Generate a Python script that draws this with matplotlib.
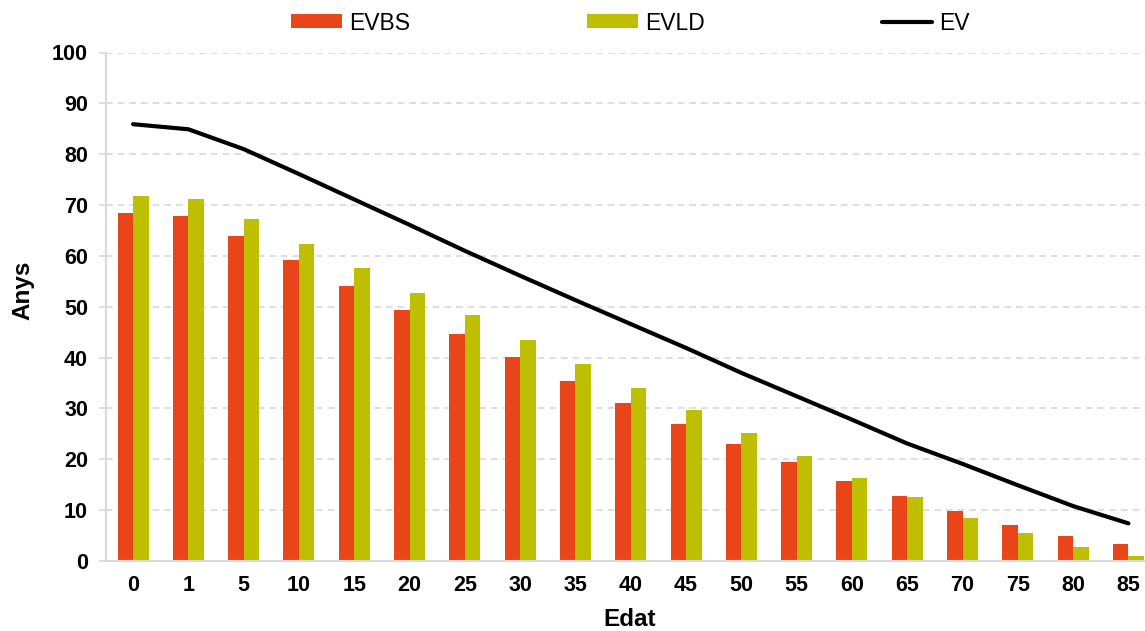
import numpy as np
import matplotlib
matplotlib.use("Agg")
import matplotlib.pyplot as plt

plt.rcParams["font.family"] = ["Liberation Sans", "DejaVu Sans"]

edats = ["0", "1", "5", "10", "15", "20", "25", "30", "35", "40",
         "45", "50", "55", "60", "65", "70", "75", "80", "85"]
evbs = [68.5, 67.8, 64.0, 59.1, 54.0, 49.3, 44.7, 40.1, 35.3, 31.1,
        26.9, 23.0, 19.4, 15.8, 12.7, 9.8, 7.0, 4.9, 3.4]
evld = [71.8, 71.2, 67.3, 62.4, 57.6, 52.8, 48.3, 43.5, 38.7, 34.1,
        29.6, 25.1, 20.6, 16.3, 12.5, 8.5, 5.5, 2.8, 1.0]
ev = [85.9, 84.9, 81.0, 76.1, 71.1, 66.1, 61.0, 56.1, 51.3, 46.6,
      41.9, 37.0, 32.4, 27.8, 23.1, 19.1, 14.9, 10.8, 7.4]

RED = "#E8461A"
GREEN = "#BEBF00"
GRID = "#d9d9d9"

x = np.arange(len(edats))
w = 0.28

fig = plt.figure(figsize=(11.45, 6.31), dpi=100)
ax = fig.add_axes([106 / 1145, 70 / 631, 1 - 106 / 1145, 508.5 / 631])

b1 = ax.bar(x - w / 2, evbs, width=w, color=RED, label="EVBS", zorder=2)
b2 = ax.bar(x + w / 2, evld, width=w, color=GREEN, label="EVLD", zorder=2)
l1, = ax.plot(x, ev, color="black", lw=3, solid_capstyle="round", label="EV", zorder=3)

ax.set_xlim(-0.49, 18.3)
ax.set_ylim(0, 100)
ax.set_yticks(range(0, 101, 10))
ax.set_xticks(x)
ax.set_xticklabels(edats)

ax.yaxis.grid(True, color=GRID, lw=1.2, linestyle=(0, (4, 3)), zorder=0)
ax.set_axisbelow(True)
for s in ["top", "right"]:
    ax.spines[s].set_visible(False)
for s in ["left", "bottom"]:
    ax.spines[s].set_color(GRID)
    ax.spines[s].set_linewidth(1.5)

ax.tick_params(axis="y", length=5, color=GRID, width=1.2, pad=8,
               labelsize=15.5)
ax.tick_params(axis="x", length=0, pad=10, labelsize=15.5)
for t in ax.get_xticklabels() + ax.get_yticklabels():
    t.set_fontweight("bold")

ax.set_xlabel("Edat", fontsize=17.5, fontweight="bold")
ax.xaxis.set_label_coords((630 - 106) / 1039, -(608 - 561) / 508.5)
ax.set_ylabel("Anys", fontsize=17.5, fontweight="bold")
ax.yaxis.set_label_coords(-(106 - 34) / 1039, (561 - 290) / 508.5)

fig.legend([b1, b2, l1], ["EVBS", "EVLD", "EV"],
           loc="center left", bbox_to_anchor=(280 / 1145, 1 - 23 / 631),
           ncol=3, frameon=False, fontsize=16.5, borderpad=0,
           handlelength=2.2, handleheight=0.55, handletextpad=0.3,
           columnspacing=7.75)

fig.savefig("out.png", dpi=100)
